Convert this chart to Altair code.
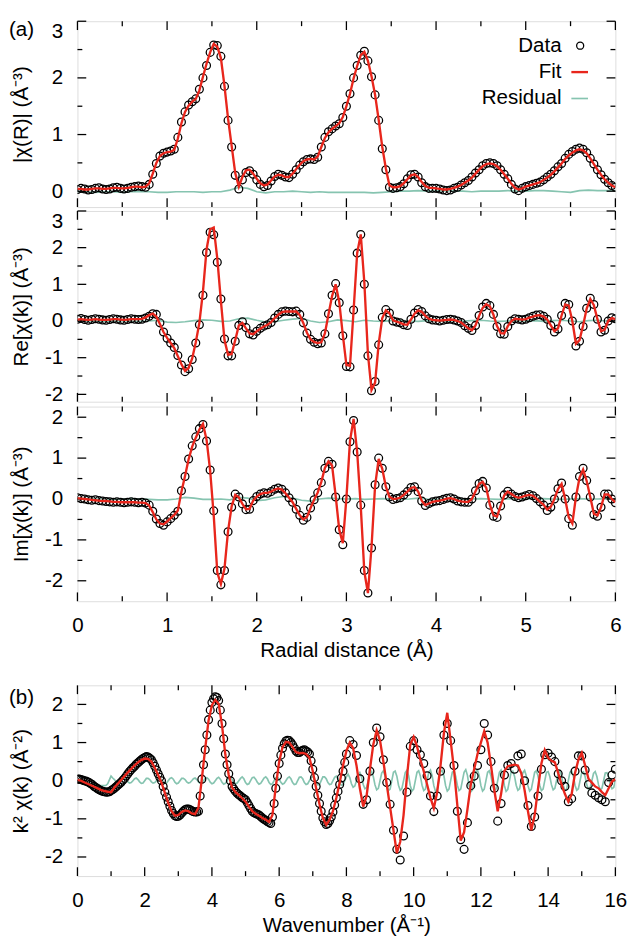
import altair as alt
import pandas as pd

FONT = "Liberation Sans"
FS = 21
RED = "#e8261c"
GREEN = "#86c4b0"

# ---------------- grids ----------------
r_grid = [round(i * 0.04, 2) for i in range(151)]
r_res_grid = [round(i * 0.1, 1) for i in range(61)]
k_data_grid = [round(i * 0.05, 2) for i in range(161)] + [round(8.1 + i * 0.1, 1) for i in range(80)]
k_fit_grid = [round(i * 0.1, 1) for i in range(161)]
k_res_grid = [round(i * 0.05, 2) for i in range(321)]

# tick positions
r_major = [0, 1, 2, 3, 4, 5, 6]
r_minor = [0.5, 1.5, 2.5, 3.5, 4.5, 5.5]
k_major = [0, 2, 4, 6, 8, 10, 12, 14, 16]
k_minor = [1, 3, 5, 7, 9, 11, 13, 15]
a1_ymajor = [0, 1, 2, 3]
a1_yminor = [0.5, 1.5, 2.5]
a2_ymajor = [-2, -1, 0, 1, 2, 3]
a2_yminor = [-1.5, -0.5, 0.5, 1.5, 2.5]
a3_ymajor = [-2, -1, 0, 1, 2]
a3_yminor = [-1.5, -0.5, 0.5, 1.5]
b_ymajor = [-2, -1, 0, 1, 2]
b_yminor = [-1.5, -0.5, 0.5, 1.5]

legend_labels = ["Data", "Fit", "Residual"]

# ---------------- (a) |chi(R)| ----------------
a1_data = [
    0.03, 0.05, 0.04, 0.02, 0.03, 0.05, 0.06, 0.04, 0.03, 0.04,
    0.06, 0.07, 0.05, 0.04, 0.05, 0.07, 0.08, 0.09, 0.08, 0.07,
    0.12, 0.30, 0.49, 0.62, 0.67, 0.69, 0.71, 0.74, 0.95, 1.22,
    1.40, 1.52, 1.58, 1.63, 1.80, 2.00, 2.22, 2.45, 2.58, 2.57,
    2.38, 1.85, 1.25, 0.78, 0.28, 0.04, 0.20, 0.33, 0.36, 0.30,
    0.20, 0.12, 0.08, 0.10, 0.18, 0.26, 0.30, 0.28, 0.25, 0.24,
    0.30, 0.38, 0.46, 0.52, 0.56, 0.57, 0.56, 0.60, 0.78, 0.95,
    1.05, 1.10, 1.15, 1.19, 1.30, 1.50, 1.72, 2.00, 2.22, 2.40,
    2.47, 2.30, 2.02, 1.70, 1.25, 0.75, 0.38, 0.07, 0.05, 0.06,
    0.08, 0.13, 0.22, 0.29, 0.30, 0.25, 0.15, 0.08, 0.05, 0.05,
    0.05, 0.04, 0.02, 0.01, 0.02, 0.05, 0.07, 0.11, 0.15, 0.19,
    0.25, 0.32, 0.38, 0.45, 0.49, 0.50, 0.49, 0.45, 0.38, 0.30,
    0.22, 0.12, 0.04, 0.01, 0.05, 0.08, 0.10, 0.12, 0.14, 0.16,
    0.20, 0.25, 0.30, 0.36, 0.43, 0.49, 0.58, 0.65, 0.70, 0.74,
    0.76, 0.74, 0.68, 0.58, 0.48, 0.38, 0.29, 0.21, 0.15, 0.10,
    0.07]
a1_fit = [
    0.04, 0.04, 0.03, 0.03, 0.04, 0.05, 0.05, 0.04, 0.04, 0.05,
    0.06, 0.06, 0.05, 0.05, 0.06, 0.07, 0.08, 0.08, 0.07, 0.08,
    0.14, 0.31, 0.50, 0.62, 0.67, 0.69, 0.70, 0.73, 0.93, 1.20,
    1.40, 1.51, 1.58, 1.63, 1.78, 2.02, 2.25, 2.45, 2.60, 2.55,
    2.35, 1.86, 1.28, 0.80, 0.32, 0.08, 0.25, 0.37, 0.38, 0.31,
    0.22, 0.14, 0.10, 0.12, 0.19, 0.26, 0.29, 0.28, 0.25, 0.25,
    0.31, 0.39, 0.47, 0.53, 0.56, 0.57, 0.56, 0.61, 0.78, 0.94,
    1.04, 1.10, 1.15, 1.20, 1.31, 1.50, 1.72, 1.99, 2.21, 2.40,
    2.46, 2.30, 2.03, 1.70, 1.26, 0.78, 0.40, 0.10, 0.07, 0.07,
    0.09, 0.14, 0.21, 0.28, 0.30, 0.25, 0.16, 0.09, 0.06, 0.06,
    0.05, 0.04, 0.03, 0.03, 0.04, 0.06, 0.08, 0.11, 0.15, 0.19,
    0.24, 0.31, 0.38, 0.44, 0.48, 0.49, 0.48, 0.44, 0.38, 0.30,
    0.22, 0.13, 0.06, 0.03, 0.05, 0.08, 0.10, 0.12, 0.14, 0.16,
    0.20, 0.24, 0.29, 0.35, 0.42, 0.49, 0.57, 0.63, 0.68, 0.72,
    0.74, 0.72, 0.67, 0.58, 0.48, 0.38, 0.29, 0.21, 0.15, 0.10,
    0.07]
a1_res = [
    -0.01, -0.01, -0.02, -0.01, -0.01, -0.02, -0.01, -0.01, -0.01, -0.02,
    -0.02, -0.01, -0.01, -0.01, -0.02, -0.01, -0.01, 0.02, 0.07, 0.05,
    -0.01, -0.03, -0.01, -0.01, 0.00, -0.01, -0.02, -0.01, -0.02, -0.02,
    -0.02, -0.02, -0.02, -0.03, -0.02, -0.01, 0.00, 0.00, 0.01, 0.00,
    0.00, 0.01, 0.00, 0.00, -0.01, 0.00, 0.00, 0.00, 0.01, 0.00,
    0.00, 0.01, 0.01, 0.00, -0.01, -0.02, 0.01, 0.02, 0.01, 0.01,
    0.01]

# ---------------- (a) Re[chi] ----------------
a2_data = [
    0.05, 0.07, 0.04, 0.02, 0.04, 0.06, 0.05, 0.03, 0.02, 0.04,
    0.06, 0.05, 0.03, 0.02, 0.04, 0.06, 0.05, 0.04, 0.05, 0.08,
    0.13, 0.20, 0.18, -0.05, -0.30, -0.47, -0.60, -0.72, -0.94, -1.20,
    -1.38, -1.30, -1.05, -0.60, -0.10, 0.70, 1.87, 2.42, 2.35, 1.60,
    0.60, -0.49, -0.95, -0.95, -0.55, -0.12, -0.02, -0.18, -0.35, -0.38,
    -0.28, -0.20, -0.14, -0.10, -0.04, 0.08, 0.18, 0.25, 0.27, 0.26,
    0.25, 0.27, 0.18, -0.05, -0.33, -0.50, -0.58, -0.62, -0.60, -0.35,
    0.20, 0.70, 1.02, 0.50, -0.40, -1.24, -1.25, 0.30, 1.85, 2.36,
    1.00, -0.95, -1.90, -1.65, -0.65, 0.10, 0.31, 0.22, 0.00, -0.03,
    -0.05, -0.10, -0.12, 0.05, 0.22, 0.31, 0.26, 0.14, 0.06, 0.03,
    0.02, 0.00, 0.02, 0.04, 0.05, 0.03, 0.00, -0.04, -0.13, -0.20,
    -0.26, -0.12, 0.15, 0.38, 0.48, 0.42, 0.18, -0.15, -0.35, -0.36,
    -0.15, 0.00, 0.06, 0.05, 0.03, 0.05, 0.09, 0.13, 0.16, 0.17,
    0.13, 0.05, -0.12, -0.30, -0.22, 0.15, 0.48, 0.45, 0.00, -0.68,
    -0.55, -0.15, 0.35, 0.62, 0.45, 0.05, -0.30, -0.25, 0.00, 0.09,
    0.06]
a2_fit = [
    0.04, 0.05, 0.04, 0.03, 0.04, 0.05, 0.04, 0.03, 0.03, 0.04,
    0.05, 0.05, 0.04, 0.03, 0.04, 0.05, 0.05, 0.05, 0.06, 0.10,
    0.16, 0.20, 0.12, -0.08, -0.30, -0.46, -0.60, -0.74, -0.96, -1.18,
    -1.36, -1.28, -1.02, -0.58, -0.05, 0.80, 1.95, 2.50, 2.55, 1.70,
    0.55, -0.52, -0.92, -0.90, -0.52, -0.12, -0.05, -0.20, -0.34, -0.36,
    -0.28, -0.21, -0.15, -0.10, -0.03, 0.08, 0.17, 0.24, 0.26, 0.26,
    0.26, 0.26, 0.16, -0.06, -0.32, -0.50, -0.57, -0.60, -0.58, -0.34,
    0.18, 0.68, 1.00, 0.52, -0.38, -1.20, -1.22, 0.28, 1.85, 2.36,
    1.05, -0.90, -1.88, -1.68, -0.62, 0.08, 0.29, 0.21, 0.02, -0.02,
    -0.05, -0.09, -0.10, 0.04, 0.20, 0.29, 0.25, 0.14, 0.06, 0.03,
    0.02, 0.01, 0.02, 0.03, 0.04, 0.03, 0.00, -0.04, -0.12, -0.20,
    -0.25, -0.12, 0.14, 0.36, 0.46, 0.40, 0.17, -0.14, -0.33, -0.34,
    -0.14, 0.00, 0.06, 0.05, 0.04, 0.05, 0.09, 0.12, 0.15, 0.16,
    0.12, 0.04, -0.12, -0.28, -0.20, 0.15, 0.45, 0.42, 0.00, -0.62,
    -0.52, -0.12, 0.34, 0.60, 0.43, 0.05, -0.28, -0.24, 0.00, 0.08,
    0.05]
a2_res = [
    0.00, 0.01, 0.00, -0.01, 0.00, 0.01, 0.00, -0.01, 0.00, 0.02,
    -0.03, -0.04, -0.02, 0.01, 0.03, 0.02, -0.01, 0.00, 0.06, 0.08,
    0.02, -0.03, -0.02, 0.02, 0.05, 0.07, 0.00, -0.04, -0.02, 0.03,
    0.01, -0.02, 0.02, 0.00, -0.01, 0.01, 0.02, 0.00, -0.01, 0.01,
    0.00, -0.01, 0.01, 0.00, 0.01, 0.02, 0.00, -0.01, 0.00, 0.01,
    0.00, 0.01, -0.01, 0.01, 0.02, 0.00, -0.02, 0.01, 0.02, 0.00,
    0.00]

# ---------------- (a) Im[chi] ----------------
a3_data = [
    0.03, 0.01, 0.00, -0.02, -0.03, -0.02, -0.04, -0.05, -0.06, -0.07,
    -0.08, -0.07, -0.08, -0.09, -0.08, -0.07, -0.08, -0.09, -0.08, -0.10,
    -0.15, -0.30, -0.49, -0.60, -0.64, -0.56, -0.48, -0.40, -0.30, 0.20,
    0.55, 0.98, 1.30, 1.52, 1.72, 1.82, 1.42, 0.71, -0.29, -1.75,
    -2.10, -1.75, -0.80, -0.20, 0.12, 0.05, -0.12, -0.26, -0.25, -0.04,
    0.06, 0.12, 0.15, 0.14, 0.18, 0.24, 0.27, 0.24, 0.15, 0.03,
    -0.08, -0.25, -0.40, -0.52, -0.45, -0.22, -0.02, 0.15, 0.40, 0.75,
    0.92, 0.85, 0.05, -0.75, -1.12, 0.00, 1.40, 1.92, 1.15, -0.15,
    -1.75, -2.30, -1.20, 0.35, 1.00, 0.75, 0.30, 0.05, -0.01, 0.01,
    0.03, 0.10, 0.18, 0.28, 0.30, 0.18, -0.05, -0.16, -0.11, -0.07,
    -0.05, -0.04, -0.01, 0.02, 0.03, 0.00, -0.05, -0.07, -0.08, -0.08,
    0.00, 0.20, 0.38, 0.43, 0.27, -0.15, -0.42, -0.45, -0.17, 0.10,
    0.19, 0.12, 0.06, 0.03, 0.05, 0.08, 0.11, 0.08, 0.01, -0.07,
    -0.15, -0.28, -0.20, 0.00, 0.25, 0.39, 0.00, -0.48, -0.64, 0.05,
    0.55, 0.75, 0.45, 0.05, -0.38, -0.42, -0.20, 0.12, 0.12, 0.00,
    -0.09]
a3_fit = [
    0.02, 0.01, 0.00, -0.01, -0.02, -0.03, -0.04, -0.05, -0.05, -0.06,
    -0.07, -0.07, -0.08, -0.08, -0.08, -0.08, -0.08, -0.09, -0.09, -0.10,
    -0.16, -0.32, -0.50, -0.60, -0.62, -0.55, -0.47, -0.39, -0.28, 0.18,
    0.56, 0.97, 1.28, 1.50, 1.70, 1.84, 1.45, 0.70, -0.40, -1.80,
    -2.08, -1.70, -0.78, -0.18, 0.10, 0.04, -0.12, -0.25, -0.24, -0.04,
    0.06, 0.12, 0.15, 0.15, 0.18, 0.23, 0.26, 0.23, 0.14, 0.03,
    -0.08, -0.24, -0.40, -0.50, -0.44, -0.22, -0.02, 0.16, 0.42, 0.76,
    0.92, 0.82, 0.08, -0.75, -1.08, 0.02, 1.42, 1.96, 1.15, -0.18,
    -1.78, -2.30, -1.18, 0.33, 0.98, 0.74, 0.30, 0.05, 0.00, 0.01,
    0.03, 0.10, 0.18, 0.27, 0.29, 0.18, -0.04, -0.15, -0.11, -0.07,
    -0.05, -0.04, -0.02, 0.01, 0.02, 0.00, -0.04, -0.06, -0.07, -0.07,
    0.00, 0.19, 0.37, 0.42, 0.27, -0.14, -0.40, -0.43, -0.17, 0.09,
    0.18, 0.12, 0.06, 0.03, 0.05, 0.08, 0.10, 0.08, 0.01, -0.07,
    -0.14, -0.26, -0.19, 0.00, 0.24, 0.37, 0.00, -0.45, -0.60, 0.05,
    0.52, 0.72, 0.44, 0.05, -0.36, -0.40, -0.20, 0.11, 0.11, 0.00,
    -0.08]
a3_res = [
    0.02, 0.01, 0.00, 0.00, -0.01, 0.00, 0.01, 0.00, -0.01, -0.02,
    -0.02, 0.00, 0.04, 0.02, -0.01, -0.01, 0.00, -0.02, 0.04, 0.02,
    -0.04, -0.02, 0.03, 0.06, 0.02, -0.03, -0.05, 0.00, 0.02, 0.01,
    0.00, 0.01, -0.01, 0.00, 0.01, 0.00, -0.01, 0.00, 0.02, 0.00,
    -0.01, 0.00, 0.01, 0.00, 0.00, 0.01, 0.00, -0.01, 0.00, 0.01,
    0.00, 0.00, 0.01, 0.00, -0.01, 0.00, 0.01, 0.00, 0.00, 0.01,
    0.00]

# ---------------- (b) k^2 chi(k) ----------------
b_data = [
    # k = 0.00 ... 8.00 (step 0.05)
    0.04, 0.04, 0.03, 0.02, 0.00, -0.01, -0.03, -0.05, -0.08, -0.11,
    -0.15, -0.18, -0.21, -0.24, -0.26, -0.28, -0.29, -0.30, -0.30, -0.29,
    -0.26, -0.23, -0.20, -0.16, -0.12, -0.08, -0.04, 0.01, 0.06, 0.12,
    0.18, 0.24, 0.29, 0.34, 0.38, 0.43, 0.47, 0.51, 0.55, 0.58,
    0.61, 0.63, 0.62, 0.59, 0.55, 0.47, 0.38, 0.28, 0.18, 0.09,
    0.00, -0.15, -0.30, -0.43, -0.55, -0.67, -0.78, -0.86, -0.92, -0.94,
    -0.93, -0.90, -0.85, -0.80, -0.76, -0.74, -0.74, -0.76, -0.79, -0.81,
    -0.82, -0.82, -0.80, -0.40, 0.04, 0.42, 0.81, 1.20, 1.60, 1.85,
    2.05, 2.15, 2.20, 2.18, 2.10, 1.85, 1.50, 1.10, 0.70, 0.42,
    0.18, 0.00, -0.15, -0.22, -0.28, -0.33, -0.37, -0.40, -0.44, -0.47,
    -0.50, -0.57, -0.65, -0.73, -0.80, -0.84, -0.86, -0.88, -0.90, -0.94,
    -0.98, -1.01, -1.04, -1.07, -1.10, -1.12, -0.95, -0.60, -0.20, 0.12,
    0.45, 0.67, 0.85, 0.97, 1.04, 1.06, 1.05, 1.00, 0.94, 0.86,
    0.78, 0.74, 0.74, 0.77, 0.80, 0.81, 0.78, 0.75, 0.70, 0.52,
    0.30, 0.08, -0.15, -0.38, -0.60, -0.80, -0.98, -1.08, -1.15, -1.12,
    -1.05, -0.95, -0.82, -0.64, -0.45, -0.28, -0.10, 0.07, 0.25, 0.48,
    0.70,
    # k = 8.1 ... 16.0 (step 0.1)
    1.05, 0.95, 0.66, 0.05, -0.62, -0.50, 0.25, 1.00, 1.38,
    1.15, 0.55, -0.05, -0.62, -1.30, -1.80, -2.08, -1.45, -0.30, 0.90,
    1.05, 0.81, 0.68, 0.45, 0.13, -0.40, -0.81, -0.40, 0.25, 1.20,
    1.50, 1.05, 0.40, -0.80, -1.55, -1.80, -1.10, -0.13, 0.12, 0.40,
    0.81, 1.50, 1.20, 0.50, -0.20, -1.06, -0.60, 0.15, 0.40, 0.45,
    0.30, 0.65, 0.70, 0.00, -0.65, -1.20, -0.95, -0.40, 0.30, 0.68,
    0.72, 0.62, 0.50, 0.18, 0.00, -0.15, -0.55, -0.47, 0.25, 0.65,
    0.65, 0.28, -0.10, -0.32, -0.38, -0.45, -0.50, -0.55, -0.05, 0.15,
    0.30]
b_fit = [
    0.02, 0.00, -0.04, -0.08, -0.12, -0.16, -0.20, -0.24, -0.27, -0.29,
    -0.30, -0.18, -0.08, 0.02, 0.12, 0.22, 0.31, 0.40, 0.48, 0.54,
    0.58, 0.57, 0.50, 0.34, 0.15, -0.05, -0.32, -0.58, -0.80, -0.92,
    -0.90, -0.82, -0.78, -0.80, -0.86, -0.88, -0.70, 0.05, 0.85, 1.58,
    1.98, 2.12, 2.02, 1.45, 0.68, 0.15, -0.18, -0.30, -0.38, -0.46,
    -0.55, -0.68, -0.80, -0.87, -0.92, -0.98, -1.02, -1.08, -0.90, -0.15,
    0.50, 0.88, 1.02, 1.00, 0.88, 0.75, 0.72, 0.73, 0.70, 0.60,
    0.25, -0.20, -0.62, -0.98, -1.16, -1.02, -0.80, -0.45, -0.05, 0.40,
    0.78, 1.00, 0.85, 0.40, -0.20, -0.68, -0.40, 0.30, 0.95, 1.32,
    1.05, 0.50, -0.10, -0.70, -1.30, -1.90, -1.60, -0.90, 0.10, 0.95,
    1.15, 0.90, 0.55, 0.25, -0.10, -0.45, -0.72, -0.30, 0.40, 1.25,
    1.78, 1.05, 0.30, -0.65, -1.57, -1.35, -0.75, -0.10, 0.30, 0.70,
    1.00, 1.30, 1.00, 0.40, -0.25, -0.80, -0.35, 0.25, 0.38, 0.40,
    0.42, 0.40, 0.20, -0.25, -0.80, -1.30, -0.90, -0.20, 0.45, 0.80,
    0.60, 0.52, 0.48, 0.20, -0.10, -0.35, -0.55, -0.35, 0.20, 0.55,
    0.73, 0.40, 0.05, -0.05, -0.15, -0.20, -0.30, -0.38, -0.20, -0.02,
    0.04]
b_res = [
    0.00, -0.01, -0.02, -0.03, -0.04, -0.05, -0.06, -0.07, -0.08, -0.09,
    -0.10, -0.11, -0.12, -0.12, -0.13, -0.13, -0.13, -0.12, -0.08, 0.02,
    0.12,
    0.07, 0.03, -0.03, -0.07, -0.06, 0.00, 0.06,
    0.06, 0.03, -0.03, -0.06, -0.05, 0.00, 0.05,
    0.07, 0.03, -0.03, -0.07, -0.06, 0.00, 0.06,
    0.06, 0.03, -0.03, -0.06, -0.05, 0.00, 0.05,
    0.07, 0.03, -0.03, -0.07, -0.06, 0.00, 0.06,
    0.08, 0.04, -0.04, -0.08, -0.06, 0.00, 0.06,
    0.06, 0.03, -0.03, -0.06, -0.05, 0.00, 0.05,
    0.07, 0.03, -0.03, -0.07, -0.06, 0.00, 0.06,
    0.08, 0.04, -0.04, -0.08, -0.06, 0.00, 0.06,
    0.09, 0.04, -0.04, -0.09, -0.07, 0.00, 0.07,
    0.08, 0.04, -0.04, -0.08, -0.06, 0.00, 0.06,
    0.10, 0.05, -0.05, -0.10, -0.08, 0.00, 0.08,
    0.09, 0.04, -0.04, -0.09, -0.07, 0.00, 0.07,
    0.10, 0.05, -0.05, -0.10, -0.08, 0.00, 0.08,
    0.09, 0.04, -0.04, -0.09, -0.07, 0.00, 0.07,
    0.10, 0.05, -0.05, -0.10, -0.09, 0.00, 0.09,
    0.10, 0.05, -0.05, -0.10, -0.08, 0.00, 0.08,
    0.11, 0.05, -0.05, -0.11, -0.10, 0.00, 0.10,
    0.10, 0.05, -0.05, -0.10, -0.09, 0.00, 0.09,
    0.12, 0.06, -0.06, -0.12, -0.10, 0.00, 0.10,
    0.17, 0.08, -0.08, -0.17, -0.14, 0.00, 0.14,
    0.21, 0.10, -0.10, -0.21, -0.18, 0.00, 0.18,
    0.24, 0.11, -0.11, -0.24, -0.20, 0.00, 0.20,
    0.26, 0.12, -0.12, -0.26, -0.22, 0.00, 0.22,
    0.25, 0.12, -0.12, -0.25, -0.21, 0.00, 0.21,
    0.27, 0.13, -0.13, -0.27, -0.22, 0.00, 0.22,
    0.26, 0.12, -0.12, -0.26, -0.22, 0.00, 0.22,
    0.28, 0.13, -0.13, -0.28, -0.23, 0.00, 0.23,
    0.27, 0.13, -0.13, -0.27, -0.22, 0.00, 0.22,
    0.26, 0.12, -0.12, -0.26, -0.22, 0.00, 0.22,
    0.29, 0.14, -0.14, -0.29, -0.24, 0.00, 0.24,
    0.27, 0.13, -0.13, -0.27, -0.22, 0.00, 0.22,
    0.26, 0.12, -0.12, -0.26, -0.22, 0.00, 0.22,
    0.28, 0.13, -0.13, -0.28, -0.23, 0.00, 0.23,
    0.25, 0.12, -0.12, -0.25, -0.21, 0.00, 0.21,
    0.27, 0.13, -0.13, -0.27, -0.22, 0.00, 0.22,
    0.26, 0.12, -0.12, -0.26, -0.22, 0.00, 0.22,
    0.24, 0.11, -0.11, -0.24, -0.20, 0.00, 0.20,
    0.26, 0.12, -0.12, -0.26, -0.22, 0.00, 0.22,
    0.25, 0.12, -0.12, -0.25, -0.21, 0.00, 0.21,
    0.23, 0.11, -0.11, -0.23, -0.19, 0.00, 0.19,
    0.24, 0.11, -0.11, -0.24, -0.20, 0.00, 0.20,
    0.21, 0.10, -0.10, -0.21, -0.18, 0.00]

W = 550


def tick_layers(xsc, ysc, xaxis, yaxis, h, xmaj, xmin, ymaj, ymin):
    out = []
    for vals, ln in ((xmaj, 9), (xmin, 5)):
        df = pd.DataFrame({"x": vals})
        out.append(alt.Chart(df).mark_rule(color="black", strokeWidth=1.3).encode(
            x=alt.X("x:Q", scale=xsc, axis=xaxis), y=alt.value(h), y2=alt.value(h - ln)))
        out.append(alt.Chart(df).mark_rule(color="black", strokeWidth=1.3).encode(
            x=alt.X("x:Q", scale=xsc, axis=xaxis), y=alt.value(0), y2=alt.value(ln)))
    for vals, ln in ((ymaj, 9), (ymin, 5)):
        df = pd.DataFrame({"y": vals})
        out.append(alt.Chart(df).mark_rule(color="black", strokeWidth=1.3).encode(
            y=alt.Y("y:Q", scale=ysc, axis=yaxis), x=alt.value(0), x2=alt.value(ln)))
        out.append(alt.Chart(df).mark_rule(color="black", strokeWidth=1.3).encode(
            y=alt.Y("y:Q", scale=ysc, axis=yaxis), x=alt.value(W), x2=alt.value(W - ln)))
    return out


def legend_layers():
    out = []
    rows_y = [25, 52, 79]
    for lab, yy in zip(legend_labels, rows_y):
        out.append(alt.Chart(pd.DataFrame({"t": [lab]})).mark_text(
            align="right", baseline="middle", fontSize=FS, font=FONT, color="black").encode(
            text="t:N", x=alt.value(495), y=alt.value(yy)))
    out.append(alt.Chart(pd.DataFrame({"t": [legend_labels[0]]})).mark_point(
        shape="circle", size=52, filled=False, color="black", strokeWidth=1.3,
        opacity=1).encode(x=alt.value(514), y=alt.value(rows_y[0])))
    out.append(alt.Chart(pd.DataFrame({"t": [legend_labels[1]]})).mark_rule(
        color=RED, strokeWidth=2.4).encode(x=alt.value(505), x2=alt.value(522),
                                           y=alt.value(rows_y[1])))
    out.append(alt.Chart(pd.DataFrame({"t": [legend_labels[2]]})).mark_rule(
        color=GREEN, strokeWidth=1.7).encode(x=alt.value(505), x2=alt.value(522),
                                             y=alt.value(rows_y[2])))
    return out


def panel(xs, data, fit_x, fit, xres, res, xdom, ydom, h, xmaj, xmin, ymaj, ymin,
          ytitle, ytop_label=None, xtitle=None, legend=False, tag=None,
          tag_y=0, tag_baseline="top"):
    df_d = pd.DataFrame({"x": xs, "y": data})
    df_f = pd.DataFrame({"x": fit_x, "y": fit})
    df_r = pd.DataFrame({"x": xres, "y": res})
    xsc = alt.Scale(domain=xdom, nice=False, zero=False)
    ysc = alt.Scale(domain=ydom, nice=False, zero=False)

    lab_base = {"condition": {"test": f"datum.value === {ytop_label}", "value": "top"},
                "value": "middle"} if ytop_label is not None else "middle"
    y_left = alt.Axis(orient="left", values=ymaj, grid=False, ticks=False, domain=False,
                      labelExpr="'' + datum.value",
                      labelFontSize=FS, labelPadding=15, labelOverlap=False,
                      labelFlush=False, labelBaseline=lab_base,
                      title=ytitle, titleFontSize=FS, titleFontWeight="normal",
                      titleAngle=270, titleAlign="center", titleBaseline="middle",
                      titleX=-57, titleY=h / 2)
    if xtitle is not None:
        x_bottom = alt.Axis(orient="bottom", values=xmaj, grid=False, ticks=False,
                            domain=False, labelExpr="'' + datum.value",
                            labelFontSize=FS, labelPadding=14, labelOverlap=False,
                            labelFlush=False, title=xtitle, titleFontSize=FS,
                            titleFontWeight="normal", titleBaseline="middle", titleY=51)
    else:
        x_bottom = None

    res_layer = alt.Chart(df_r).mark_line(color=GREEN, strokeWidth=1.7, clip=True).encode(
        x=alt.X("x:Q", scale=xsc, axis=x_bottom),
        y=alt.Y("y:Q", scale=ysc, axis=y_left))
    pts_layer = alt.Chart(df_d).mark_point(filled=False, opacity=1, strokeWidth=1.3,
                                           size=64, shape="circle", color="black",
                                           clip=True).encode(
        x=alt.X("x:Q", scale=xsc, axis=x_bottom),
        y=alt.Y("y:Q", scale=ysc, axis=y_left))
    fit_layer = alt.Chart(df_f).mark_line(color=RED, strokeWidth=2.4, clip=True).encode(
        x=alt.X("x:Q", scale=xsc, axis=x_bottom),
        y=alt.Y("y:Q", scale=ysc, axis=y_left))

    layers = [res_layer] + tick_layers(xsc, ysc, x_bottom, y_left, h, xmaj, xmin, ymaj, ymin) + \
        [pts_layer, fit_layer]
    if legend:
        layers += legend_layers()
    if tag is not None:
        layers.append(alt.Chart(pd.DataFrame({"t": [tag]})).mark_text(
            align="left", baseline=tag_baseline, fontSize=FS, font=FONT,
            color="black").encode(text="t:N", x=alt.value(-70), y=alt.value(tag_y)))
    return alt.layer(*layers).properties(width=W, height=h)


p1 = panel(r_grid, a1_data, r_grid, a1_fit, r_res_grid, a1_res, [0, 6], [-0.28, 3], 190,
           r_major, r_minor, a1_ymajor, a1_yminor,
           "|χ(R)| (Å⁻³)", ytop_label=3, legend=True, tag="(a)", tag_y=-2,
           tag_baseline="top")
p2 = panel(r_grid, a2_data, r_grid, a2_fit, r_res_grid, a2_res, [0, 6], [-2.2, 3], 195,
           r_major, r_minor, a2_ymajor, a2_yminor,
           "Re[χ(k)] (Å⁻³)", ytop_label=3)
p3 = panel(r_grid, a3_data, r_grid, a3_fit, r_res_grid, a3_res, [0, 6], [-2.5, 2.26], 199,
           r_major, r_minor, a3_ymajor, a3_yminor,
           "Im[χ(k)] (Å⁻³)", xtitle="Radial distance (Å)")
p4 = panel(k_data_grid, b_data, k_fit_grid, b_fit, k_res_grid, b_res, [0, 16], [-2.5, 2.5],
           195, k_major, k_minor, b_ymajor, b_yminor,
           "k² χ(k) (Å⁻²)", xtitle="Wavenumber (Å⁻¹)", tag="(b)", tag_y=13,
           tag_baseline="middle")

chart = alt.vconcat(
    alt.vconcat(p1, p2, p3, spacing=0),
    p4,
    spacing=22,
    padding={"left": 0, "top": 0, "right": 4, "bottom": 0},
).configure_view(stroke="black", strokeWidth=1.5).configure(font=FONT)

chart.save("out.html", embed_options={"renderer": "svg", "actions": False})
